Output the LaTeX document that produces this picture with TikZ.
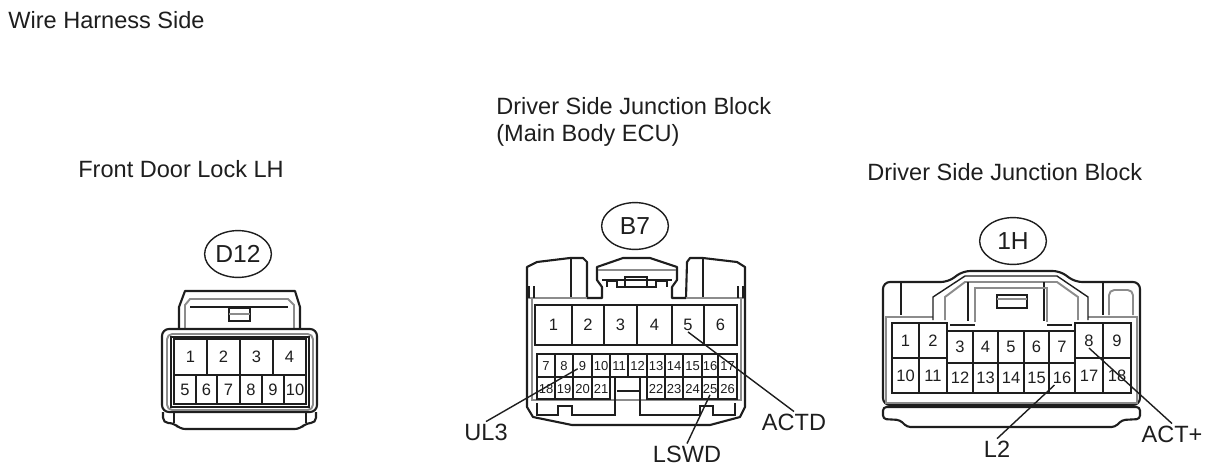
\documentclass[tikz,border=0pt]{standalone}
\usepackage{fontspec}
\setmainfont{Liberation Sans}
\definecolor{inkline}{RGB}{30,30,30}
\definecolor{softline}{RGB}{140,140,140}
\tikzstyle{body}=[draw=inkline,line width=1.2pt,line join=round]
\tikzstyle{thin}=[draw=inkline,line width=0.8pt]
\tikzstyle{soft}=[draw=softline,line width=1.1pt]
\tikzstyle{cell}=[draw=inkline,line width=1pt]
\tikzstyle{bignum}=[inner sep=0.5pt,text=inkline,font=\fontsize{9.4}{9.4}\selectfont]
\tikzstyle{smallnum}=[inner sep=0.5pt,text=inkline,font=\fontsize{7.4}{7.4}\selectfont]
\tikzstyle{tag}=[inner sep=1pt,text=inkline,font=\fontsize{13.4}{13.4}\selectfont]
\tikzstyle{title}=[anchor=west,inner sep=0pt,text=inkline,font=\fontsize{13.4}{13.4}\selectfont]
\tikzstyle{badge}=[ellipse,draw=inkline,line width=0.8pt,minimum width=67\unitpx,minimum height=47\unitpx,inner sep=0pt,text=inkline,font=\fontsize{14}{14}\selectfont]
\tikzstyle{leader}=[draw=inkline,line width=0.8pt]
\newcommand{\unitpx}{*0.5669pt}
\usetikzlibrary{shapes.geometric}
\begin{document}
\begin{tikzpicture}[x=0.02cm,y=-0.02cm]
\useasboundingbox (0,0) rectangle (1210,474);

% titles
\node[title] (harness) at (8,20) {Wire Harness Side};
\node[title] (doorlock) at (78,169) {Front Door Lock LH};
\node[title] (block) at (496,106) {Driver Side Junction Block};
\node[title] (ecu) at (496,135) {(Main Body ECU)};
\node[title] (blockb) at (867,172) {Driver Side Junction Block};

% connector names
\node[badge] (D12) at (238,254) {D12};
\node[badge] (B7) at (635,226) {B7};
\node[badge] (1H) at (1013,241) {1H};

% D12 housing
\draw[body] (179,329) -- (179,307) -- (185,291) -- (295,291) -- (300,307) -- (300,329);
\draw[soft] (185,329) -- (185,305) -- (190,299) -- (288,299) -- (294,305) -- (294,329);
\draw[thin] (190,307) -- (288,307);
\draw[thin] (229,308) rectangle (250,321);
\draw[soft] (229,314) -- (250,314);
\draw[body,rounded corners=4] (162,329) rectangle (317,412);
\draw[soft,rounded corners=3] (167,334) rectangle (313,410);
\draw[thin] (171,337) rectangle (309,407);
\draw[body,rounded corners=3] (163,412) -- (163,423) -- (174,423) -- (180,429) -- (300,429) -- (306,423) -- (316,423) -- (316,412);
\draw[thin] (174,412) -- (174,423) (306,412) -- (306,423);

\foreach \n/\xa/\xb in {1/174/207,2/207/240,3/240/273,4/273/306}
{
  \draw[cell] (\xa,339) rectangle (\xb,375);
  \node[bignum] (d\n) at ({(\xa+\xb)/2},357) {\n};
}
\foreach \n/\xa/\xb in {5/174/196,6/196/217,7/217/240,8/240/262,9/262/284,10/284/306}
{
  \draw[cell] (\xa,375) rectangle (\xb,404);
  \node[bignum] (d\n) at ({(\xa+\xb)/2},390) {\n};
}

% B7 housing
\draw[body,fill=white] (527,267) -- (537,262) -- (570,258) -- (583,258) -- (587,262) -- (587,298) -- (602,298) -- (602,287) -- (597,280) -- (597,267) -- (623,258) -- (650,258) -- (677,267) -- (677,280) -- (672,287) -- (672,298) -- (686,298) -- (687,262) -- (690,258) -- (703,258) -- (737,262) -- (745,267) -- (745,407) -- (740,417) -- (710,425) -- (572,425) -- (533,417) -- (527,407) -- cycle;
\draw[thin] (571,258) -- (571,298) (703,258) -- (703,298);
\draw[soft] (528,298) -- (587,298) (686,298) -- (744,298);
\draw[soft] (532,298) -- (532,400) -- (741,400) -- (741,298);
\draw[thin] (529,286) -- (529,298) (534,286) -- (534,298) (738,286) -- (738,298) (743,286) -- (743,298);
\draw[soft] (598,270) -- (676,270);
\draw[thin] (602,280) -- (672,280);
\draw[thin] (625,287) -- (625,277) -- (647,277) -- (647,287);
\draw[thin] (607,287) -- (607,281) -- (617,281) -- (617,287) -- (656,287) -- (656,281) -- (667,281) -- (667,287);
\draw[thin] (537,403) -- (537,415) -- (558,415) -- (558,406) -- (572,406) -- (572,415) -- (615,415) -- (615,377);
\draw[thin] (640,377) -- (640,415) -- (700,415) -- (700,406) -- (713,406) -- (713,415) -- (735,415) -- (735,403);
\draw[thin] (617,391) -- (640,391);

\foreach \n/\xa/\xb in {1/535/572,2/572/604,3/604/637,4/637/672,5/672/704,6/704/737}
{
  \draw[cell] (\xa,305) rectangle (\xb,345);
  \node[bignum] (b\n) at ({(\xa+\xb)/2},325) {\n};
}
\foreach \n/\xa/\xb in {7/537/555,8/555/573,9/573/592,10/592/610,11/610/628,12/628/647,13/647/665,14/665/683,15/683/702,16/702/718,17/718/737}
{
  \draw[cell] (\xa,354) rectangle (\xb,377);
  \node[smallnum] (b\n) at ({(\xa+\xb)/2},366) {\n};
}
\foreach \n/\xa/\xb in {18/537/555,19/555/573,20/573/592,21/592/610,22/647/665,23/665/683,24/683/702,25/702/718,26/718/737}
{
  \draw[cell] (\xa,377) rectangle (\xb,399);
  \node[smallnum] (b\n) at ({(\xa+\xb)/2},389) {\n};
}

% 1H housing
\draw[body,rounded corners=4] (883,405) -- (883,282) -- (948,282) -- (963,271) -- (1060,271) -- (1075,282) -- (1140,282) -- (1140,405) -- cycle;
\draw[body,rounded corners=2] (883,407) -- (883,419) -- (900,420) -- (907,427) -- (1115,427) -- (1122,420) -- (1140,419) -- (1140,407) -- cycle;
\draw[soft] (933,317) -- (886,317) -- (886,403) -- (1137,403) -- (1137,317) -- (1088,317);
\draw[thin] (933,320) -- (933,297) -- (965,276) -- (1057,276) -- (1088,297) -- (1088,320);
\draw[soft] (945,320) -- (945,297) -- (965,282) -- (1057,282) -- (1078,297) -- (1078,320);
\draw[thin] (968,282) -- (968,321) (1044,282) -- (1044,321);
\draw[soft] (975,322) -- (975,288) -- (1047,288) -- (1047,322);
\draw[thin] (950,325) -- (975,325) (1047,325) -- (1072,325);
\draw[thin] (997,295) rectangle (1027,308);
\draw[soft] (997,299) -- (1027,299);
\draw[thin] (901,283) -- (901,315) (1103,283) -- (1103,315);
\draw[soft,rounded corners=3] (1109,315) -- (1109,290) -- (1133,290) -- (1133,315);

\foreach \n/\xa/\xb in {1/892/919,2/919/947,8/1075/1103,9/1103/1131}
{
  \draw[cell] (\xa,323) rectangle (\xb,358);
  \node[bignum] (h\n) at ({(\xa+\xb)/2},341) {\n};
}
\foreach \n/\xa/\xb in {3/947/973,4/973/998,5/998/1024,6/1024/1049,7/1049/1075}
{
  \draw[cell] (\xa,331) rectangle (\xb,363);
  \node[bignum] (h\n) at ({(\xa+\xb)/2},347) {\n};
}
\foreach \n/\xa/\xb in {10/892/919,11/919/947,17/1075/1103,18/1103/1131}
{
  \draw[cell] (\xa,358) rectangle (\xb,393);
  \node[bignum] (h\n) at ({(\xa+\xb)/2},376) {\n};
}
\foreach \n/\xa/\xb in {12/947/973,13/973/998,14/998/1024,15/1024/1049,16/1049/1075}
{
  \draw[cell] (\xa,363) rectangle (\xb,393);
  \node[bignum] (h\n) at ({(\xa+\xb)/2},378) {\n};
}

% signal names
\node[tag] (UL3) at (486,432) {UL3};
\node[tag] (LSWD) at (687,454) {LSWD};
\node[tag] (ACTD) at (794,422) {ACTD};
\node[tag] (L2) at (997,449) {L2};
\node[tag] (ACT) at (1172,434) {ACT+};

\path[leader] (b9) -- (UL3.north);
\path[leader] (b25.south) -- (LSWD.north);
\path[leader] (b5.south) -- (ACTD.north);
\path[leader] (h16) -- (L2.north);
\path[leader] (h8.south) -- (ACT.north);
\end{tikzpicture}
\end{document}
